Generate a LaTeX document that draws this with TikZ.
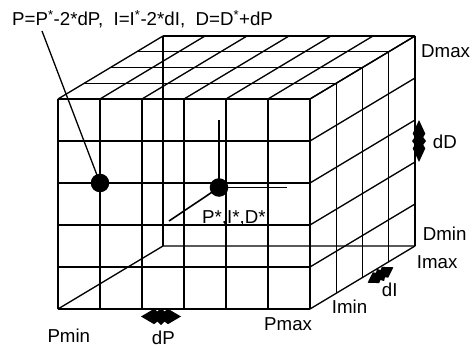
\documentclass[tikz,border=0pt]{standalone}
\usepackage{fontspec}
\setmainfont{Liberation Sans}
\begin{document}
\begin{tikzpicture}[x=1pt,y=-1pt,
  gridline/.style={line width=1.3pt},
  axisline/.style={line width=1.6pt},
  lbl/.style={inner sep=0pt, anchor=base west, font=\fontsize{18.7}{21}\selectfont},
  dot/.style={circle, fill=black, inner sep=0pt, minimum size=18.6pt},
  dblarrow/.pic={\fill[black] (-1,0) -- (-0.35,-0.9) -- (-0.18,-0.6) -- (0,-1) -- (0.18,-0.6) -- (0.35,-0.9) -- (1,0) -- (0.35,0.9) -- (0.18,0.6) -- (0,1) -- (-0.18,0.6) -- (-0.35,0.9) -- cycle;}
]
\useasboundingbox (0,0) rectangle (473,347);
% front face
\foreach \i in {0,...,6} \draw[gridline] ({58+42*\i},99) -- ({58+42*\i},309);
\foreach \j in {0,...,5} \draw[gridline] (58,{99+42*\j}) -- (310,{99+42*\j});
% top face
\foreach \i in {0,...,6} \draw[gridline] ({58+42*\i},99) -- ++(105,-63);
\foreach \k in {1,...,4} \draw[gridline] ({58+26.25*\k},{99-15.75*\k}) -- ++(252,0);
% right face
\foreach \j in {0,...,5} \draw[gridline] (310,{99+42*\j}) -- ++(105,-63);
\foreach \k in {1,...,4} \draw[gridline] ({310+26.25*\k},{99-15.75*\k}) -- ++(0,210);
% hidden edges
\coordinate (FBL) at (58,309);
\coordinate (BBL) at (163,246);
\coordinate (BBR) at (415,246);
\coordinate (BTL) at (163,36);
\draw[gridline] (FBL) -- (BBL) -- (BBR);
\draw[gridline] (BTL) -- (BBL);
% points
\node[dot] (p) at (100,183) {};
\node[dot] (c) at (219,187.5) {};
\coordinate (cup) at (219,120);
\coordinate (cright) at (287,187.5);
\coordinate (cdiag) at (169,221);
\draw[axisline] (cup) -- (c.center) -- (cright);
\draw[axisline] (c.center) -- (cdiag);
% top label
\node[lbl] (toplbl) at (12,26) {P=P\textsuperscript{*}-2*dP,\ \ I=I\textsuperscript{*}-2*dI,\ \ D=D\textsuperscript{*}+dP};
\coordinate (lead) at (42,31);
\draw[gridline] (lead) -- (p.center);
% labels
\node[lbl] (cstar) at (202,223.3) {P*,I*,D*};
\node[lbl] (dmax) at (421,57.3) {Dmax};
\node[lbl] (dd) at (432.7,148.3) {dD};
\node[lbl] (dmin) at (422.7,240) {Dmin};
\node[lbl] (imax) at (416.7,268.3) {Imax};
\node[lbl] (di) at (381.7,296.7) {dI};
\node[lbl] (imin) at (331.7,313.3) {Imin};
\node[lbl] (pmax) at (264,330) {Pmax};
\node[lbl] (pmin) at (47.3,342.7) {Pmin};
\node[lbl] (dp) at (151.7,344) {dP};
% step arrows
\pic[rotate=90, xscale=21, yscale=7] at (419,141) {dblarrow};
\pic[xscale=20, yscale=8.5] at (161,316.5) {dblarrow};
\pic[rotate=31, xscale=15, yscale=7] at (380.5,275) {dblarrow};
\end{tikzpicture}
\end{document}
